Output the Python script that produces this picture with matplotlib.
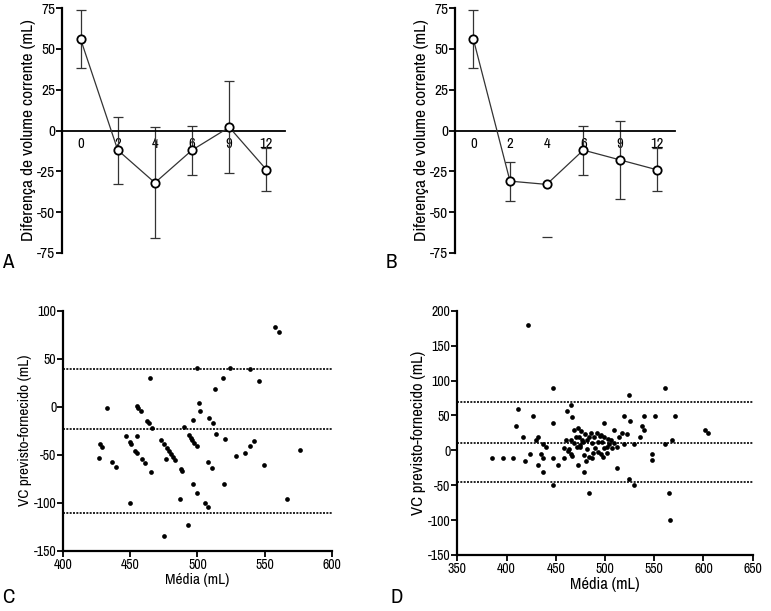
import matplotlib
matplotlib.use("Agg")
import matplotlib.pyplot as plt
import numpy as np
from matplotlib import font_manager

# pick a condensed face if one is installed, otherwise Roboto (narrower than DejaVu)
family = "Roboto"
stretch = "normal"
for f in font_manager.fontManager.ttflist:
    if f.style != "normal" or f.weight not in (400, "normal", "regular"):
        continue
    if "Condensed" in f.name or "Narrow" in f.name:
        family = f.name
        break
    if f.stretch in ("condensed", "semi-condensed") and f.name == "DejaVu Sans":
        family = "DejaVu Sans"
        stretch = "condensed"
plt.rcParams["font.family"] = [family, "DejaVu Sans"]
plt.rcParams["font.stretch"] = stretch
plt.rcParams["axes.unicode_minus"] = False

# panels A and B: mean difference per time point
times = ["0", "2", "4", "6", "9", "12"]
a_mean = [56, -12, -32, -12, 2, -24]
a_low = [38, -33, -66, -27, -26, -37]
a_high = [74, 8, 2, 3, 30, -11]
b_mean = [56, -31, -33, -12, -18, -24]
b_low = [38, -43, np.nan, -27, -42, -37]
b_high = [74, -19, np.nan, 3, 6, -11]
b_lone_cap = -65

# panel C: Bland-Altman points
c_media = [426.4, 427.4, 428.6, 432.3, 436.3, 439.0, 446.7, 449.5, 450.7, 449.5,
           453.7, 455.2, 454.7, 454.9, 455.5, 457.9, 458.4, 460.9, 462.6, 463.9,
           465.9, 464.9, 465.6, 472.6, 475.3, 476.5, 477.5, 479.0, 480.5, 482.0,
           483.5, 474.8, 487.0, 488.0, 488.7, 490.2, 493.1, 493.7, 494.9, 496.1,
           497.4, 499.6, 496.6, 496.4, 499.4, 501.4, 501.6, 508.8, 511.5, 513.5,
           520.2, 507.8, 510.8, 519.5, 499.9, 505.6, 507.6, 513.0, 519.0, 524.0,
           539.4, 545.8, 528.9, 535.6, 539.1, 542.1, 549.3, 557.7, 560.5, 566.7,
           576.6]
c_diff = [-53.4, -39.2, -42.3, -1.0, -57.3, -62.5, -30.5, -36.5, -38.9, -100.3,
          -45.8, -48.5, -30.5, 0.3, -1.0, -4.5, -54.2, -58.6, -14.6, -17.3,
          -21.9, 29.6, -68.3, -34.7, -39.2, -54.2, -43.4, -46.1, -48.9, -52.0,
          -55.5, -134.7, -95.8, -65.2, -67.0, -21.1, -123.2, -29.5, -32.3, -34.7,
          -37.5, -40.6, -13.9, -80.8, 40.0, 3.5, -4.5, -11.5, -16.6, -28.4,
          -33.3, -57.6, -63.5, -80.5, -89.6, -100.3, -104.5, 18.4, 30.2, 40.6,
          39.6, 26.8, -51.7, -48.6, -40.6, -35.4, -60.4, 82.7, 77.5, -95.8,
          -45.5]
c_lines = [39, -23, -111]

# panel D: Bland-Altman points
d_media = [421.8, 447.5, 560.9, 524.7, 385.6, 396.1, 406.2, 411.6, 409.3, 416.4,
           419.1, 424.2, 426.5, 429.6, 432.3, 432.3, 434.7, 437.4, 437.0, 437.0,
           440.1, 447.2, 447.5, 447.5, 452.6, 458.0, 460.1, 461.7, 465.5, 466.8,
           463.1, 465.5, 466.8, 465.8, 468.5, 470.6, 468.5, 472.9, 475.3, 473.3,
           471.2, 475.0, 478.0, 480.0, 481.4, 483.4, 486.1, 486.5, 489.2, 491.5,
           492.9, 494.9, 495.9, 499.0, 481.4, 479.0, 480.7, 483.8, 486.8, 488.2,
           492.5, 495.6, 498.3, 501.7, 499.0, 501.7, 504.4, 506.1, 506.8, 509.1,
           509.5, 511.8, 514.6, 516.9, 519.3, 522.7, 529.5, 499.0, 519.3, 540.0,
           550.4, 571.1, 525.7, 537.2, 539.6, 601.9, 604.6, 568.4, 560.6, 535.2,
           547.7, 547.7, 565.3, 566.0, 524.7, 529.8, 511.8, 478.7, 472.6, 484.1,
           477.0, 474.5, 490.0, 497.0, 503.5, 458.5, 462.7]
d_diff = [179.5, 89.7, 89.7, 79.7, -10.6, -10.6, -10.6, 59.6, 34.8, 19.5,
          -15.8, -5.8, 49.6, 14.2, 19.5, -20.6, -5.8, -10.6, 9.5, -30.6,
          4.2, 38.6, -10.6, -50.2, -20.6, -10.6, 14.2, 56.7, 64.4, 47.2,
          1.4, -5.8, -8.7, 14.2, 29.1, 19.5, 10.9, 32.4, 28.1, 19.5,
          5.2, 5.2, 11.9, 23.3, 14.7, 19.5, 25.2, 10.9, 19.5, 24.3,
          11.9, 20.4, 22.4, 19.5, 1.4, -6.8, -15.8, -9.2, -11.5, -4.4,
          -2.0, -5.8, -9.2, -4.4, 2.8, 5.2, 9.0, 14.7, 2.8, 29.1,
          9.9, 5.2, 19.5, 24.3, 9.5, 22.9, 9.5, 39.6, 49.6, 49.6,
          49.6, 49.6, 41.5, 34.8, 29.5, 29.5, 24.3, 14.7, 9.5, 19.5,
          -5.8, -14.4, -60.7, -100.0, -40.7, -50.2, -25.4, -30.6, -20.6, -61.7,
          15.0, 8.0, 3.0, 12.0, 16.0, 4.0, -1.0]
d_lines = [69, 10, -45]

W, H = 771, 611
fig = plt.figure(figsize=(W / 100, H / 100), dpi=100)


def box(l, t, r, b):
    return [l / W, 1 - b / H, (r - l) / W, (b - t) / H]


def time_panel(ax, mean, low, high):
    x = np.arange(len(times))
    mean = np.array(mean, float)
    low = np.array(low, float)
    high = np.array(high, float)
    err = [mean - low, high - mean]
    ax.errorbar(x, mean, yerr=err, fmt="none", ecolor="#333333", elinewidth=0.9,
                capsize=3.5, capthick=0.9)
    ax.plot(x, mean, "-", color="#333333", lw=0.9, marker="o", ms=6,
            mfc="white", mec="black", mew=1.3, zorder=3)
    ax.set_xlim(-0.5, 5.5)
    ax.set_ylim(-75, 75)
    ax.set_yticks([-75, -50, -25, 0, 25, 50, 75])
    ax.set_xticks(x)
    ax.set_xticklabels(times)
    for s in ["top", "right"]:
        ax.spines[s].set_visible(False)
    ax.spines["bottom"].set_position(("data", 0))
    ax.spines["bottom"].set_linewidth(1.3)
    ax.spines["left"].set_linewidth(1.6)
    ax.tick_params(axis="x", length=0, pad=5, labelsize=10.5)
    ax.tick_params(axis="y", direction="out", length=4, width=1.3, labelsize=11, pad=1)
    ax.set_ylabel("Diferença de volume corrente (mL)", fontsize=12.5, labelpad=1)


def ba_panel(ax, xs, ys, lines, xlim, ylim, xstep, fs):
    for v in lines:
        ax.axhline(v, color="black", lw=1.2, ls=(0, (1.2, 0.8)))
    ax.plot(xs, ys, "o", color="black", ms=3.4, mew=0)
    ax.set_xlim(*xlim)
    ax.set_ylim(*ylim)
    ax.set_xticks(np.arange(xlim[0], xlim[1] + 1, xstep))
    ax.set_yticks(np.arange(ylim[0], ylim[1] + 1, 50))
    for s in ["top", "right"]:
        ax.spines[s].set_visible(False)
    for s in ["left", "bottom"]:
        ax.spines[s].set_linewidth(1.6)
    ax.tick_params(direction="out", length=4, width=1.3, labelsize=10, pad=1)
    ax.set_xlabel("Média (mL)", fontsize=fs, labelpad=1)
    ax.set_ylabel("VC previsto-fornecido (mL)", fontsize=fs, labelpad=1)


axA = fig.add_axes(box(62, 8, 285, 253))
time_panel(axA, a_mean, a_low, a_high)

axB = fig.add_axes(box(455, 8, 675, 253))
time_panel(axB, b_mean, b_low, b_high)
axB.plot([2], [b_lone_cap], marker="_", color="#333333", ms=7, mew=0.9)

axC = fig.add_axes(box(63.3, 310.7, 331.7, 550.7))
ba_panel(axC, c_media, c_diff, c_lines, (400, 600), (-150, 100), 50, 11)

axD = fig.add_axes(box(457.3, 310.7, 752.7, 555))
ba_panel(axD, d_media, d_diff, d_lines, (350, 650), (-150, 200), 50, 12)

for lab, px, py in [("A", 2, 272), ("B", 386, 272), ("C", 2, 607), ("D", 390, 607)]:
    fig.text(px / W, 1 - py / H, lab, fontsize=15, ha="left", va="bottom")

fig.savefig("out.png", dpi=100)
